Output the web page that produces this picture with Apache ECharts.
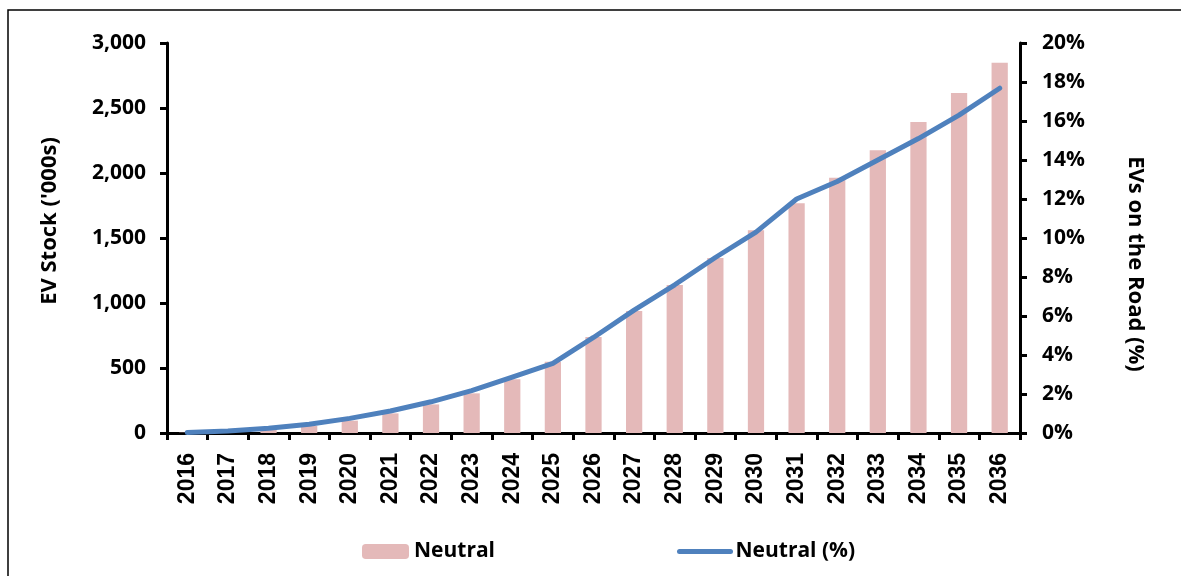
<!DOCTYPE html>
<html>
<head>
<meta charset="utf-8">
<script src="https://cdn.jsdelivr.net/npm/echarts@6/dist/echarts.min.js"></script>
<style>
  html, body { margin: 0; padding: 0; background: #fff; }
  #chart { width: 1181px; height: 576px; }
</style>
</head>
<body>
<div id="chart"></div>
<script>
// EV stock outlook, 2016-2036
const years = ['2016','2017','2018','2019','2020','2021','2022','2023','2024','2025','2026',
               '2027','2028','2029','2030','2031','2032','2033','2034','2035','2036'];
// EV stock, thousands of vehicles
const evStock = [2, 8, 25, 54, 95, 151, 220, 305, 413, 548, 738,
                 938, 1138, 1346, 1560, 1767, 1964, 2175, 2392, 2615, 2848];
// share of EVs on the road, %
const evShare = [0.02, 0.1, 0.24, 0.45, 0.75, 1.13, 1.6, 2.17, 2.86, 3.57, 4.9,
                 6.3, 7.6, 9.0, 10.3, 12.0, 12.9, 14.0, 15.1, 16.3, 17.68];
const leftTicks = { min: 0, max: 3000, interval: 500 };
const rightTicks = { min: 0, max: 20, interval: 2 };

const labelFont = { fontFamily: 'Open Sans', fontWeight: 'bold', fontSize: 21, color: '#000' };
const yearFont = { fontFamily: 'Liberation Sans', fontWeight: 'bold', fontSize: 23, color: '#000' };
const titleFont = { fontFamily: 'Open Sans', fontWeight: 'bold', fontSize: 22, color: '#000' };
const legendFont = { fontFamily: 'Open Sans', fontWeight: 'bold', fontSize: 21, color: '#000' };
const axisLine = { show: true, lineStyle: { color: '#000', width: 3 } };
const axisTick = { show: true, inside: false, length: 7, lineStyle: { color: '#000', width: 3 } };

const chart = echarts.init(document.getElementById('chart'), null, { renderer: 'canvas' });
chart.setOption({
  animation: false,
  backgroundColor: '#fff',
  graphic: [{
    type: 'rect',
    shape: { x: 8, y: 10, width: 1200, height: 600 },
    style: { fill: 'none', stroke: '#000', lineWidth: 1.5 },
    silent: true
  }],
  grid: { left: 167, right: 161, top: 43, bottom: 143 },
  legend: [{
    left: 357, top: 536,
    itemWidth: 47, itemHeight: 15,
    textStyle: legendFont,
    data: ['Neutral']
  }, {
    left: 672, top: 536,
    itemWidth: 51, itemHeight: 15,
    textStyle: legendFont,
    data: [{
      name: 'Neutral (%)',
      itemStyle: { opacity: 0 },
      lineStyle: { width: 5, color: '#4f81bd', cap: 'round' }
    }]
  }],
  xAxis: {
    type: 'category',
    data: years,
    boundaryGap: true,
    axisLine: axisLine,
    axisTick: axisTick,
    axisLabel: { ...yearFont, rotate: 90, margin: 20, interval: 0 },
    splitLine: { show: false }
  },
  yAxis: [{
    type: 'value',
    position: 'left',
    ...leftTicks,
    name: "EV Stock ('000s)",
    nameLocation: 'middle',
    nameGap: 106,
    nameTextStyle: { ...titleFont, padding: [0, 0, 0, 34] },
    axisLine: axisLine,
    axisTick: axisTick,
    axisLabel: { ...labelFont, margin: 21, formatter: v => v.toLocaleString('en-US') },
    splitLine: { show: false }
  }, {
    type: 'value',
    position: 'right',
    ...rightTicks,
    name: 'EVs on the Road (%)',
    nameLocation: 'middle',
    nameRotate: -90,
    nameGap: 104,
    nameTextStyle: { ...titleFont, padding: [0, 0, 0, 52] },
    axisLine: axisLine,
    axisTick: axisTick,
    axisLabel: { ...labelFont, margin: 22, formatter: '{value}%' },
    splitLine: { show: false }
  }],
  series: [{
    name: 'Neutral',
    type: 'bar',
    yAxisIndex: 0,
    data: evStock,
    barWidth: '40%',
    itemStyle: { color: '#e4b9b9' },
    z: 2
  }, {
    name: 'Neutral (%)',
    type: 'line',
    yAxisIndex: 1,
    data: evShare,
    symbol: 'none',
    lineStyle: { color: '#4f81bd', width: 5, cap: 'round', join: 'round' },
    itemStyle: { color: '#4f81bd' },
    z: 3
  }]
});
</script>
</body>
</html>
